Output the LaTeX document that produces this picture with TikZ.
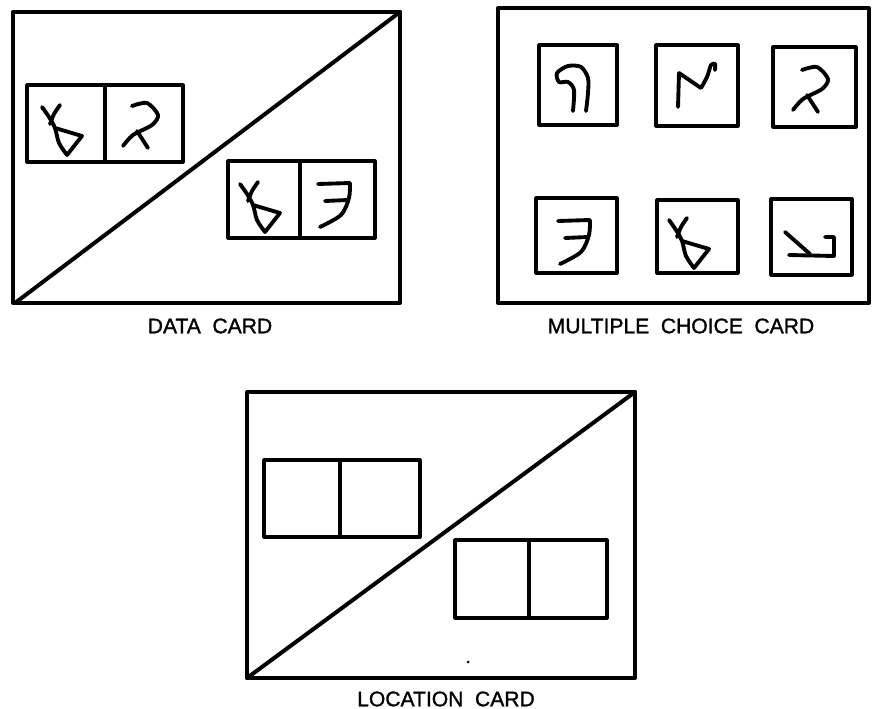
\documentclass[tikz,border=0pt]{standalone}
\usepackage{fontspec}
\setmainfont{Liberation Sans}
\newfontfamily\lblface[FakeBold=1.3]{Liberation Sans}
\usetikzlibrary{positioning}
\newcommand\lblfont{\lblface\fontsize{18}{21}\selectfont\spaceskip=0.55em plus 0.1em\relax}

\begin{document}
\begin{tikzpicture}[x=0.03cm,y=-0.03cm,line join=round,line cap=round,
   card/.style={line width=3.4pt},
   cellbox/.style={line width=2.7pt},
   gl/.style={line width=3.3pt},
   cardlbl/.style={font=\lblfont,inner sep=0pt},
   bell/.pic={\draw[gl] plot[smooth] coordinates {(-24,-16) (-17,-6) (-11,5) (-7,20) (1,32)} -- (16,13) -- (-11,5);
              \draw[gl] plot[smooth] coordinates {(-6,-18) (-12,-9) (-16,1)};},
   rgl/.pic={\draw[gl] plot[smooth] coordinates {(-12,-17) (3,-20) (14,-8) (8,2) (-11,12) (-21,23)};
             \draw[gl] (-7,8) -- (4,25);},
   egl/.pic={\draw[gl] (-19,-16) -- (13,-17) plot[smooth] coordinates {(13,-17) (12,-2) (4,15) (-17,27)};
             \draw[gl] (-12,1) -- (11,0);},
   qgl/.pic={\draw[gl] plot[smooth] coordinates {(-5,26) (-4,5) (-10,-3) (-19,-3) (-21,-12) (-10,-19) (3,-18) (10,-7) (10,8) (8,26)};},
   ngl/.pic={\draw[gl] (-19,22) -- (-18,-12) -- (4,3) plot[smooth] coordinates {(4,3) (10,-8) (14,-20) (18,-21) (18,-15)};},
   zgl/.pic={\draw[gl] (-27,-5) -- (-2,17); \draw[gl] (-23,18) -- (22,19) -- (22,0) -- (13,0);}]
  \useasboundingbox (0,0) rectangle (873,709);

  % data card
  \draw[card] (13,12) rectangle (400,303);
  \draw[card] (15,303) -- (400,12);
  \draw[cellbox] (27,85) rectangle (183,162) (105,85) -- (105,162);
  \draw[cellbox] (228,161) rectangle (375,238) (300,161) -- (300,238);
  \pic at (66,123) {bell};
  \pic at (144,123) {rgl};
  \pic at (264,200) {bell};
  \pic at (337,200) {egl};
  \node[cardlbl] (datalbl) at (210,326) {DATA CARD};

  % multiple choice card
  \draw[card] (498,8) rectangle (869,303);
  \draw[cellbox] (539,45) rectangle (617,125);
  \draw[cellbox] (656,45) rectangle (738,126);
  \draw[cellbox] (773,47) rectangle (856,127);
  \draw[cellbox] (536,198) rectangle (617,273);
  \draw[cellbox] (657,200) rectangle (738,273);
  \draw[cellbox] (771,199) rectangle (852,275);
  \pic at (578,85) {qgl};
  \pic at (697,85) {ngl};
  \pic at (814,87) {rgl};
  \pic at (577,237) {egl};
  \pic at (693,236) {bell};
  \pic at (812,237) {zgl};
  \node[cardlbl] (mclbl) at (681,326) {MULTIPLE CHOICE CARD};

  % location card
  \draw[card] (247,392) rectangle (635,678);
  \draw[card] (247,678) -- (635,392);
  \draw[cellbox] (264,460) rectangle (420,537) (340,460) -- (340,537);
  \draw[cellbox] (455,540) rectangle (607,618) (529,540) -- (529,618);
  \fill (468,662) circle (1.5);
  \node[cardlbl] (loclbl) at (446,699) {LOCATION CARD};
\end{tikzpicture}
\end{document}
